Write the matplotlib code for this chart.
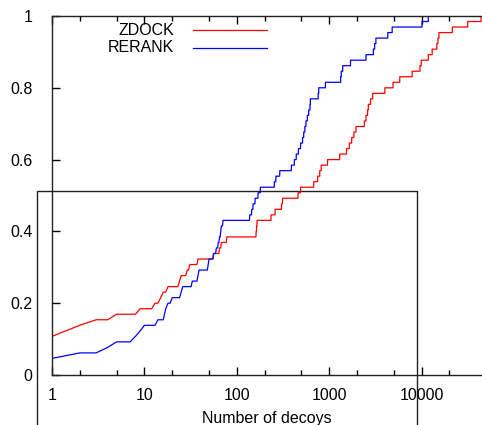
import matplotlib
matplotlib.use("Agg")
import matplotlib.pyplot as plt
from matplotlib.ticker import LogLocator, FixedLocator, FuncFormatter, NullLocator
from matplotlib.lines import Line2D

N_COMPLEXES = 65
X_MAX = 45000

# rank at which the cumulative number of complexes with a hit increases
zdock_rank = [1, 2, 3, 5, 9, 13, 15, 16, 18, 24, 25, 29, 31, 38, 56, 65, 68, 78,
              162, 164, 166, 235, 260, 305, 313, 460, 490, 680, 750, 790, 820,
              960, 1300, 1540, 1650, 1750, 1850, 1950, 2400, 2500, 2600, 2650,
              2800, 2950, 4000, 4900, 5800, 7900, 9600, 9900, 11800, 13000,
              14600, 15000, 15400, 21500, 31500, 44000]
zdock_hits = [7, 9, 10, 11, 12, 13, 14, 15, 16, 17, 18, 19, 20, 21, 22, 23, 24, 25,
              26, 27, 28, 29, 30, 31, 32, 33, 34, 35, 36, 37, 38,
              39, 40, 41, 42, 43, 44, 45, 46, 47, 48, 49,
              50, 51, 52, 53, 54, 55, 56, 57, 58, 59,
              60, 61, 62, 63, 64, 65]

rerank_rank = [1, 2, 4, 5, 8, 9, 10, 14, 17, 18, 20, 25, 26, 33, 38, 39, 49, 50,
               56, 60, 63, 65, 67, 68, 71, 138, 145, 150, 158, 170, 180, 255,
               265, 292, 390, 420, 440, 465, 490, 515, 530, 545, 560, 580, 600,
               620, 625, 760, 770, 910, 1330, 1350, 1400, 1700, 2500, 3000,
               3100, 3200, 4300, 4800, 10100, 11800]
rerank_hits = [3, 4, 5, 6, 7, 8, 9, 10, 12, 13, 14, 15, 16, 17, 18, 19, 20, 21,
               22, 23, 24, 25, 26, 27, 28, 29, 30, 31, 32, 33, 34, 35,
               36, 37, 38, 39, 40, 41, 42, 43, 44, 45, 46, 47, 48,
               49, 50, 51, 52, 53, 54, 55, 56, 57, 58, 59,
               60, 61, 62, 63, 64, 65]

x_ticks = [1, 10, 100, 1000, 10000]
y_ticks = [0, 0.2, 0.4, 0.6, 0.8, 1]
y_tick_labels = ["0", "0.2", "0.4", "0.6", "0.8", "1"]


def build_path(ranks, hits):
    # values exist at integer ranks, joined by straight lines (gnuplot "with lines")
    xs = [ranks[0]]
    ys = [hits[0]]
    for i in range(1, len(ranks)):
        if ranks[i] - 1 > ranks[i - 1]:
            xs.append(ranks[i] - 1)
            ys.append(hits[i - 1])
        xs.append(ranks[i])
        ys.append(hits[i])
    xs.append(X_MAX)
    ys.append(hits[-1])
    return xs, [h / N_COMPLEXES for h in ys]


plt.rcParams['font.family'] = ['Liberation Sans', 'DejaVu Sans']
FS = 11.5

fig = plt.figure(figsize=(4.82, 4.25), dpi=100)
ax = fig.add_axes([52 / 482, 50 / 425, 430 / 482, 359 / 425])
ax.patch.set_alpha(0)

zx, zy = build_path(zdock_rank, zdock_hits)
rx, ry = build_path(rerank_rank, rerank_hits)
ax.plot(zx, zy, color='#ff0000', lw=0.9)
ax.plot(rx, ry, color='#0000ff', lw=0.9)

ax.set_xscale('log')
ax.set_xlim(1, X_MAX)
ax.set_ylim(0, 1)
ax.xaxis.set_major_locator(FixedLocator(x_ticks))
ax.xaxis.set_minor_locator(LogLocator(base=10, subs=[2, 5]))
ax.xaxis.set_major_formatter(FuncFormatter(lambda v, p: "%d" % v))
ax.xaxis.set_minor_formatter(FuncFormatter(lambda v, p: ""))
ax.set_yticks(y_ticks)
ax.set_yticklabels(y_tick_labels)
ax.yaxis.set_minor_locator(NullLocator())

ax.tick_params(which='both', direction='in', top=True, right=False,
               labelsize=FS, colors='black')
ax.tick_params(axis='x', which='major', length=6, width=1, pad=9.5)
ax.tick_params(axis='x', which='minor', length=3.5, width=1)
ax.tick_params(axis='y', which='major', length=6, width=1, pad=14)
for side in ['left', 'bottom', 'top']:
    ax.spines[side].set_linewidth(1)
    ax.spines[side].set_color('#222222')
ax.spines['right'].set_visible(False)

fig.text(267 / 482, (425 - 423.5) / 425, "Number of decoys", ha='center',
         va='baseline', fontsize=FS)

# key
ax.text(0.2837, 0.961, "ZDOCK", transform=ax.transAxes, ha='right',
        va='center', fontsize=FS)
ax.text(0.2837, 0.911, "RERANK", transform=ax.transAxes, ha='right',
        va='center', fontsize=FS)
ax.plot([0.328, 0.5], [0.961, 0.961], color='#ff0000', lw=0.9,
        transform=ax.transAxes)
ax.plot([0.328, 0.5], [0.911, 0.911], color='#0000ff', lw=0.9,
        transform=ax.transAxes)

# frame of an overlapping panel seen in the original image
box_x = [37 / 482, 37 / 482, 417 / 482, 417 / 482]
box_y = [-0.05, 1 - 191 / 425, 1 - 191 / 425, -0.05]
fig.add_artist(Line2D(box_x, box_y, color='#222222', lw=1,
                      transform=fig.transFigure, zorder=-1))

fig.savefig("out.png", dpi=100)
